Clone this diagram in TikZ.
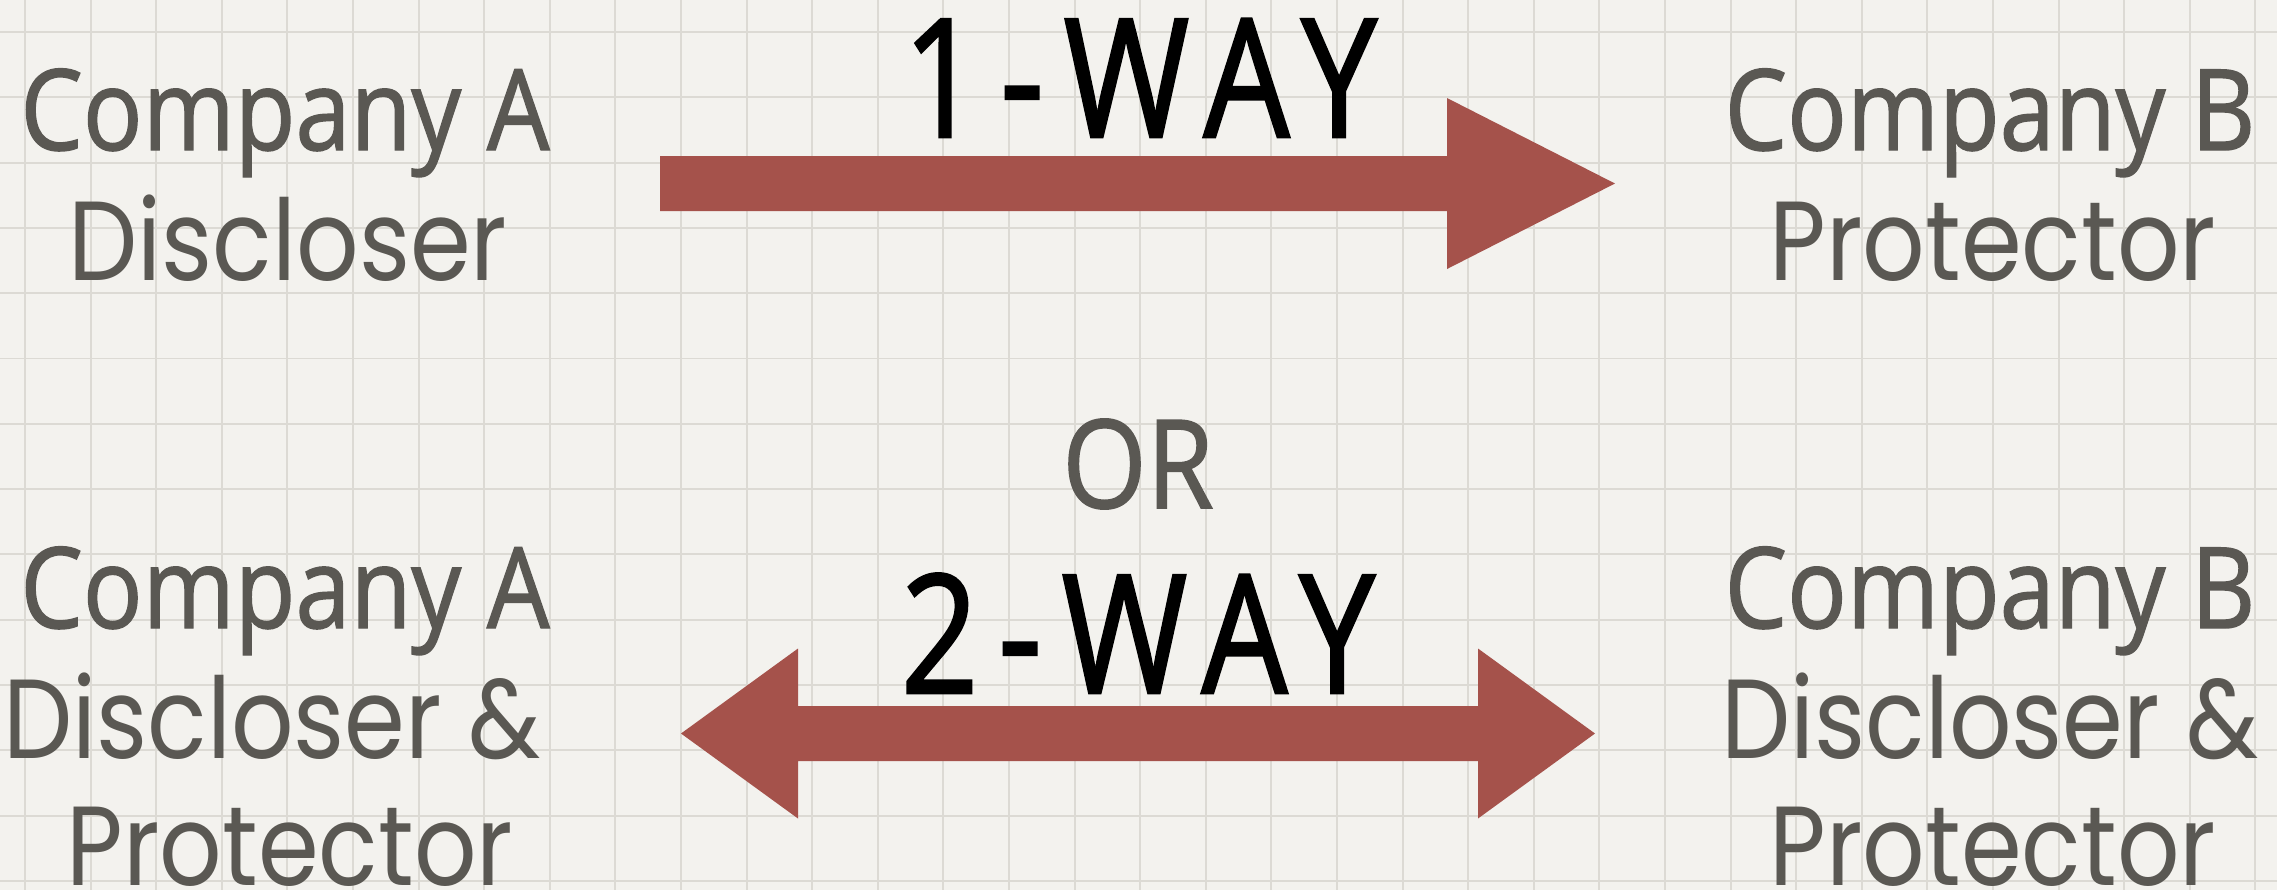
\documentclass[tikz,border=0pt]{standalone}
\usepackage{fontspec}
\setmainfont{Open Sans}
\newfontfamily\handfont[FakeStretch=0.88, FakeBold=1.2]{Open Sans}
\newfontfamily\wayfont[FakeStretch=0.82, LetterSpace=12, FakeBold=1.5]{Open Sans}
\newfontfamily\roundfont[FakeStretch=0.87]{Poppins}
\usetikzlibrary{positioning, calc}
\definecolor{paper}{HTML}{F3F2EE}
\definecolor{gridgray}{HTML}{DCDAD4}
\definecolor{inkgray}{HTML}{5A5853}
\definecolor{arrowred}{HTML}{A5524B}
\tikzset{
    company/.style={font=\handfont\fontsize{32}{38}\selectfont, text=inkgray, anchor=base, inner sep=0pt},
    role/.style={font=\roundfont\fontsize{32}{38}\selectfont, text=inkgray, anchor=base, inner sep=0pt},
    waylabel/.style={font=\wayfont\fontsize{47}{56}\selectfont, text=black, anchor=base, inner sep=0pt},
    orlabel/.style={font=\handfont\fontsize{35}{42}\selectfont, text=inkgray, anchor=base, inner sep=0pt},
    gridline/.style={gridgray, line width=0.55pt},
    bigarrow/.style={fill=arrowred},
}

\begin{document}
\begin{tikzpicture}[x=0.01cm, y=-0.01cm]
    % paper with squares
    \fill[paper] (0,0) rectangle (2277,890);
    \useasboundingbox (0,0) rectangle (2277,890);
    \foreach \k in {0,...,34} {
        \pgfmathsetmacro{\gx}{25+65.6*\k}
        \draw[gridline] (\gx,0) -- (\gx,890);
    }
    \foreach \k in {0,...,13} {
        \pgfmathsetmacro{\gy}{32+65.3*\k}
        \draw[gridline] (0,\gy) -- (2277,\gy);
    }

    % one way
    \node[company] (compA1) at (285,150) {Company A};
    \node[role]    (discA1) at (288,280) {Discloser};
    \node[company] (compB1) at (1990,150) {Company B};
    \node[role]    (protB1) at (1993,280) {Protector};
    \node[waylabel] (oneway) at (1140,137) {1-WAY};

    \coordinate (oneL) at (660,183.5);
    \coordinate (oneR) at (1615,183.5);
    \fill[bigarrow] ($(oneL)+(0,-27.5)$) -- ($(oneR)+(-168,-27.5)$)
        -- ($(oneR)+(-168,-85.5)$) -- (oneR) -- ($(oneR)+(-168,85.5)$)
        -- ($(oneR)+(-168,27.5)$) -- ($(oneL)+(0,27.5)$) -- cycle;

    \node[orlabel] (orword) at (1138,508) {OR};

    % two way
    \node[company] (compA2) at (285,628) {Company A};
    \node[role]    (discA2) at (272,758) {Discloser \&};
    \node[role]    (protA2) at (290,885) {Protector};
    \node[company] (compB2) at (1990,628) {Company B};
    \node[role]    (discB2) at (1990,758) {Discloser \&};
    \node[role]    (protB2) at (1993,885) {Protector};
    \node[waylabel] (twoway) at (1138,693) {2-WAY};

    \coordinate (twoL) at (681,733.5);
    \coordinate (twoR) at (1595,733.5);
    \fill[bigarrow] (twoL) -- ($(twoL)+(117,-85)$) -- ($(twoL)+(117,-27.5)$)
        -- ($(twoR)+(-117,-27.5)$) -- ($(twoR)+(-117,-85)$) -- (twoR)
        -- ($(twoR)+(-117,85)$) -- ($(twoR)+(-117,27.5)$)
        -- ($(twoL)+(117,27.5)$) -- ($(twoL)+(117,85)$) -- cycle;
\end{tikzpicture}
\end{document}
